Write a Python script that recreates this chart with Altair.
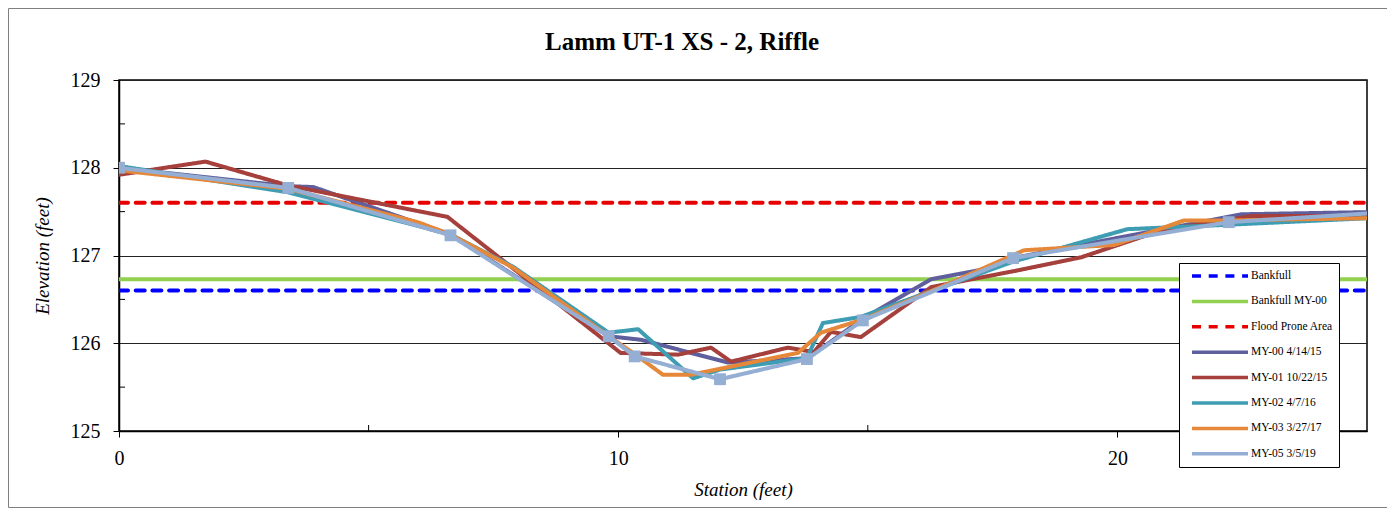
import altair as alt
import pandas as pd

# ---------------- data ----------------
names = ["Bankfull", "Bankfull MY-00", "Flood Prone Area", "MY-00 4/14/15",
         "MY-01 10/22/15", "MY-02 4/7/16", "MY-03 3/27/17", "MY-05 3/5/19"]
colors = ["#0000FF", "#92D050", "#E60000", "#5F5F9E",
          "#A5403C", "#3F9DB3", "#E6883A", "#94AED4"]

ref_x = [0, 25]
bankfull_y = [126.6, 126.6]
bankfull_my00_y = [126.73, 126.73]
flood_y = [127.6, 127.6]

my00_x = [0, 3.39, 3.89, 6.64, 9.81, 10.45, 12.2, 13.8, 14.9, 16.27, 17.3, 17.91, 20.0, 22.49, 25.6]
my00_y = [128.0, 127.79, 127.78, 127.24, 126.08, 126.04, 125.78, 125.83, 126.28, 126.73, 126.84, 126.97, 127.2, 127.47, 127.5]

my01_x = [0, 1.73, 3.37, 6.58, 10.05, 11.2, 11.86, 12.26, 13.4, 13.92, 14.26, 14.86, 16.27, 18.0, 19.28, 20.9, 22.7, 25.6]
my01_y = [127.92, 128.07, 127.8, 127.44, 125.89, 125.87, 125.95, 125.79, 125.95, 125.9, 126.13, 126.07, 126.64, 126.83, 126.98, 127.29, 127.45, 127.45]

my02_x = [0, 3.39, 6.64, 7.9, 9.81, 10.4, 11.5, 12.04, 13.78, 14.1, 14.86, 16.3, 17.91, 20.2, 22.2, 25.6]
my02_y = [128.02, 127.72, 127.24, 126.87, 126.12, 126.16, 125.6, 125.7, 125.83, 126.23, 126.3, 126.6, 126.93, 127.3, 127.35, 127.44]

my03_x = [0, 3.39, 5.98, 6.64, 7.9, 9.81, 10.3, 10.9, 11.45, 13.6, 14.06, 14.9, 16.3, 18.13, 19.94, 21.34, 22.23, 25.6]
my03_y = [127.97, 127.76, 127.38, 127.24, 126.86, 126.08, 125.89, 125.64, 125.64, 125.89, 126.12, 126.27, 126.6, 127.06, 127.12, 127.4, 127.4, 127.43]

my05_x = [0, 3.39, 6.64, 9.81, 10.33, 12.04, 13.78, 14.9, 17.91, 22.23, 25.6]
my05_y = [128.0, 127.77, 127.23, 126.08, 125.85, 125.59, 125.82, 126.26, 126.97, 127.38, 127.5]

y_ticks = [125, 126, 127, 128, 129]
y_minor = [125.5, 126.5, 127.5, 128.5]
x_ticks = [0, 10, 20]
x_minor = [5, 15]

series = [
    (names[0], ref_x, bankfull_y),
    (names[1], ref_x, bankfull_my00_y),
    (names[2], ref_x, flood_y),
    (names[3], my00_x, my00_y),
    (names[4], my01_x, my01_y),
    (names[5], my02_x, my02_y),
    (names[6], my03_x, my03_y),
    (names[7], my05_x, my05_y),
]
rows = []
for k, (n, xs, ys) in enumerate(series):
    for x, y in zip(xs, ys):
        rows.append({"series": n, "station": x, "elev": y, "k": k})
df = pd.DataFrame(rows)

W, H = 1248, 351
FONT = "Liberation Serif"

xscale = alt.Scale(domain=[0, 25], nice=False, zero=False)
yscale = alt.Scale(domain=[125, 129], nice=False, zero=False)

dash_range = [[9, 7.7], [1, 0], [9, 7.7], [1, 0], [1, 0], [1, 0], [1, 0], [1, 0]]

legend_kw = dict(title=None, orient="none", legendX=1060, legendY=183,
                 symbolType="M0,0H11.2", symbolSize=100,
                 symbolStrokeWidth=3.5, labelOffset=52,
                 labelFont=FONT, labelFontSize=11.5,
                 labelColor="black", padding=6,
                 rowPadding=11.4, strokeColor="black",
                 fillColor="white", cornerRadius=0)

lines = alt.Chart(df).mark_line(clip=True, strokeWidth=4, strokeCap="round",
                                strokeJoin="round").encode(
    x=alt.X("station:Q", scale=xscale,
            axis=alt.Axis(values=x_ticks, title="Station (feet)", grid=False,
                          tickSize=6, labelPadding=11, titlePadding=12,
                          labelFlush=False, format="d")),
    y=alt.Y("elev:Q", scale=yscale,
            axis=alt.Axis(values=y_ticks, title="Elevation (feet)", grid=True,
                          tickSize=6, labelPadding=13, titlePadding=18,
                          format="d")),
    color=alt.Color("series:N", scale=alt.Scale(domain=names, range=colors),
                    legend=alt.Legend(**legend_kw)),
    strokeDash=alt.StrokeDash("series:N", scale=alt.Scale(domain=names, range=dash_range),
                              legend=alt.Legend(**legend_kw)),
    detail="k:Q",
)

pts = alt.Chart(pd.DataFrame({"station": my05_x, "elev": my05_y})).mark_square(
    size=140, color="#94AED4", opacity=1, clip=True
).encode(x=alt.X("station:Q", scale=xscale), y=alt.Y("elev:Q", scale=yscale))

ymin = alt.Chart(pd.DataFrame({"v": y_minor})).mark_rule(color="black", strokeWidth=1).encode(
    y=alt.Y("v:Q", scale=yscale), x=alt.value(0), x2=alt.value(6))
xmin = alt.Chart(pd.DataFrame({"v": x_minor})).mark_rule(color="black", strokeWidth=1).encode(
    x=alt.X("v:Q", scale=xscale), y=alt.value(H), y2=alt.value(H - 6))

frame = alt.Chart(pd.DataFrame({"a": [0]})).mark_rect(
    fill=None, stroke="#7f7f7f", strokeWidth=1, clip=False
).encode(x=alt.value(-110.5), x2=alt.value(1271.5), y=alt.value(-71.5), y2=alt.value(427.5))

chart = alt.layer(frame, ymin, xmin, lines, pts).properties(
    width=W, height=H,
    padding={"left": 111, "top": 72, "right": 20, "bottom": 81},
    autosize=alt.AutoSizeParams(type="none"),
    background="white",
    title=alt.Title("Lamm UT-1 XS - 2, Riffle", font=FONT, fontSize=25, fontWeight="bold",
                    color="black", anchor="middle", dx=-61, offset=-47),
).configure_view(stroke="black", strokeWidth=1.5).configure_axis(
    domainColor="black", domainWidth=1.5, tickColor="black", tickWidth=1,
    gridColor="#222222", gridWidth=1, labelFont=FONT, labelFontSize=20,
    labelColor="black", titleFont=FONT, titleFontSize=19, titleFontStyle="italic",
    titleFontWeight="normal", titleColor="black",
)

chart.save("out.html", embed_options={"renderer": "svg", "actions": False})
